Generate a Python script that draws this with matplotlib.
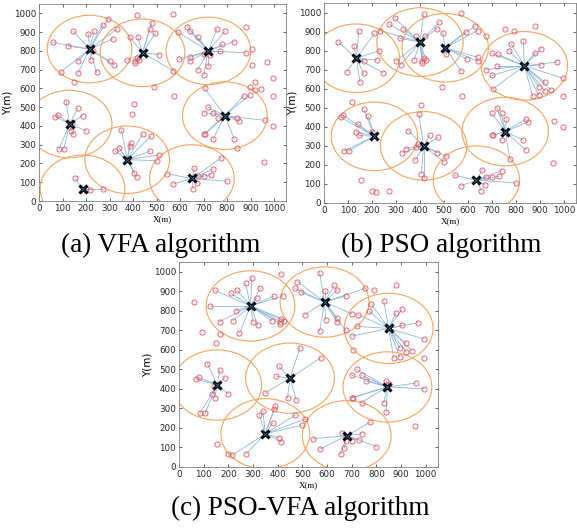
import matplotlib
matplotlib.use("Agg")
import matplotlib.pyplot as plt
import numpy as np
from matplotlib.patches import Circle

# sensor node positions (same field in all three panels)
node_x = [60, 125, 145, 95, 165, 165, 150, 210, 235, 230, 220, 245, 270, 295, 330, 315, 300, 320,
          385, 420, 410, 410, 415, 425, 375, 470, 480, 495, 510, 570, 415, 570, 490, 575,
          590, 595, 640, 640, 630, 640, 675, 700, 675, 700, 720, 725, 755, 790, 780, 770, 830, 880, 880, 905, 905, 970, 995, 920,
          705, 700, 720, 740, 760, 700, 705, 740, 830, 840, 840, 850, 870, 895, 960, 995, 895, 920, 945, 995, 955,
          115, 70, 80, 165, 185, 140, 135, 145, 200, 85, 105, 405, 395,
          350, 390, 385, 340, 325, 440, 475, 470, 510, 500, 405, 415, 380,
          155, 200, 215, 270,
          545, 570, 660, 670, 655, 700, 730, 740, 775, 800, 675]
node_y = [845, 825, 905, 690, 745, 680, 635, 890, 905, 800, 750, 685, 940, 970, 915, 865, 745, 725,
          875, 875, 745, 735, 760, 750, 750, 915, 950, 895, 780, 695, 990, 995, 610, 560,
          900, 755, 765, 745, 930, 905, 875, 785, 700, 670, 720, 780, 915, 905, 835, 800, 850, 790, 930, 810, 725, 740, 655, 635,
          600, 470, 500, 470, 440, 355, 355, 330, 330, 280, 440, 425, 560, 565, 430, 400, 610, 590, 595, 560, 210,
          530, 450, 460, 495, 455, 415, 375, 355, 375, 275, 275, 515, 465,
          380, 310, 295, 285, 265, 355, 345, 265, 245, 215, 150, 130, 225,
          120, 65, 60, 65,
          145, 90, 175, 95, 65, 135, 140, 170, 230, 105, 135]

# cluster head positions found by each algorithm
vfa_x = [215, 440, 720, 790, 130, 375, 185, 650]
vfa_y = [810, 790, 800, 455, 410, 220, 65, 120]
pso_x = [135, 400, 505, 835, 210, 415, 755, 635]
pso_y = [760, 845, 815, 720, 350, 300, 375, 120]
psovfa_x = [290, 590, 850, 155, 450, 845, 350, 680]
psovfa_y = [825, 845, 710, 420, 455, 410, 170, 160]

radius = 180
panels = [(vfa_x, vfa_y, "(a) VFA algorithm"),
          (pso_x, pso_y, "(b) PSO algorithm"),
          (psovfa_x, psovfa_y, "(c) PSO-VFA algorithm")]

W, H = 577, 529
def rect(l, t, r, b):
    return [l / W, 1 - b / H, (r - l) / W, (b - t) / H]

fig = plt.figure(figsize=(W / 100, H / 100), dpi=100)
boxes = [rect(39, 4, 286, 201), rect(324, 3, 576, 203), rect(179, 262, 438, 467)]
caps = [(161, 245), (441, 245), (300, 508)]

nx = np.array(node_x, float)
ny = np.array(node_y, float)

for (cx, cy, cap), box, (tx, ty) in zip(panels, boxes, caps):
    ax = fig.add_axes(box)
    cx = np.array(cx, float)
    cy = np.array(cy, float)
    # link each node to its nearest head if in range
    d = np.hypot(nx[:, None] - cx[None, :], ny[:, None] - cy[None, :])
    k = d.argmin(axis=1)
    for i in range(len(nx)):
        if d[i, k[i]] <= radius:
            ax.plot([nx[i], cx[k[i]]], [ny[i], cy[k[i]]], color="#8cb8dc", lw=0.6, zorder=1)
    for j in range(len(cx)):
        ax.add_patch(Circle((cx[j], cy[j]), radius, fill=False, ec="#f5a55e", lw=0.8, zorder=2))
    ax.plot(nx, ny, "o", mfc="none", mec="#e8505a", ms=3.7, mew=0.6, zorder=3)
    ax.plot(cx, cy, "x", color="black", ms=5.5, mew=2.2, zorder=4)
    ax.plot(cx, cy, "x", color="#2a5f86", ms=3, mew=0.7, zorder=5)

    ax.set_xlim(0, 1050)
    ax.set_ylim(0, 1050)
    ax.set_xticks(np.arange(0, 1001, 100))
    ax.set_yticks(np.arange(0, 1001, 100))
    ax.tick_params(direction="in", length=2, width=0.5, labelsize=6.3, colors="#262626",
                   top=True, right=True, pad=2)
    for s in ax.spines.values():
        s.set_color("#7f7f7f")
        s.set_linewidth(0.6)
    ax.set_xlabel("X(m)", fontsize=6.5, family="Liberation Serif", labelpad=2)
    ax.set_ylabel("Y(m)", fontsize=7.5, labelpad=1)
    fig.text(tx / W, 1 - ty / H, cap, ha="center", va="center",
             fontsize=19.5, family="Liberation Serif")

fig.savefig("out.png", dpi=100)
